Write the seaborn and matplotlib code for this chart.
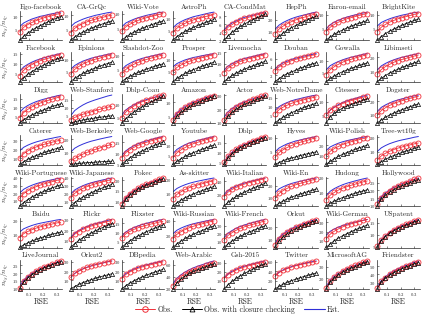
import numpy as np
import matplotlib
matplotlib.use('Agg')
import matplotlib.pyplot as plt
from matplotlib.lines import Line2D
from matplotlib.ticker import MaxNLocator, FixedLocator
import seaborn as sns

# RSE sample points
rse = [0.03, 0.06, 0.09, 0.12, 0.15, 0.18, 0.21, 0.24, 0.27, 0.30, 0.33]

titles = [
    'Ego-facebook', 'CA-GrQc', 'Wiki-Vote', 'AstroPh', 'CA-CondMat', 'HepPh', 'Enron-email', 'BrightKite',
    'Facebook', 'Epinions', 'Slashdot-Zoo', 'Prosper', 'Livemocha', 'Douban', 'Gowalla', 'Libimseti',
    'Digg', 'Web-Stanford', 'Dblp-Coau', 'Amazon', 'Actor', 'Web-NotreDame', 'Citeseer', 'Dogster',
    'Caterer', 'Web-Berkeley', 'Web-Google', 'Youtube', 'Dblp', 'Hyves', 'Wiki-Polish', 'Tree-wt10g',
    'Wiki-Portuguese', 'Wiki-Japanese', 'Pokec', 'As-skitter', 'Wiki-Italian', 'Wiki-En', 'Hudong', 'Hollywood',
    'Baidu', 'Flickr', 'Flixster', 'Wiki-Russian', 'Wiki-French', 'Orkut', 'Wiki-German', 'USpatent',
    'LiveJournal', 'Orkut2', 'DBpedia', 'Web-Arabic', 'Gsh-2015', 'Twitter', 'MicrosoftAG', 'Friendster',
]

# Est. (blue line)
est = [
    # row 1
    [6, 7.4, 8.2, 8.9, 9.4, 9.9, 10.2, 10.6, 10.9, 11.2, 11.5],
    [6, 7.3, 8, 8.6, 9.1, 9.5, 9.9, 10.2, 10.5, 10.8, 11],
    [5.5, 6.8, 7.5, 8.1, 8.6, 9, 9.4, 9.7, 10, 10.3, 10.5],
    [6, 7.6, 8.6, 9.4, 10, 10.6, 11, 11.4, 11.8, 12.2, 12.5],
    [4.5, 5.6, 6.3, 6.8, 7.3, 7.7, 8, 8.2, 8.5, 8.8, 9],
    [12, 15.6, 17.8, 19.5, 21, 22.2, 23.2, 24, 24.9, 25.8, 26.5],
    [5, 6.5, 7.4, 8.1, 8.7, 9.2, 9.6, 10, 10.3, 10.7, 11],
    [6, 7.3, 8, 8.6, 9.1, 9.5, 9.9, 10.2, 10.5, 10.8, 11],
    # row 2
    [6, 8.3, 9.6, 10.7, 11.6, 12.3, 12.9, 13.5, 14, 14.6, 15],
    [6, 7.6, 8.6, 9.4, 10, 10.6, 11, 11.4, 11.8, 12.2, 12.5],
    [5, 6.4, 7.2, 7.9, 8.4, 8.9, 9.2, 9.6, 9.9, 10.2, 10.5],
    [7, 8.4, 9.2, 9.9, 10.4, 10.9, 11.2, 11.6, 11.9, 12.2, 12.5],
    [7, 8.9, 10, 10.9, 11.7, 12.3, 12.8, 13.2, 13.7, 14.1, 14.5],
    [3.5, 4.4, 5, 5.4, 5.8, 6.1, 6.3, 6.6, 6.8, 7, 7.2],
    [6, 7.8, 8.8, 9.6, 10.3, 10.9, 11.4, 11.8, 12.2, 12.7, 13],
    [11, 13.9, 15.6, 17, 18.1, 19.1, 19.9, 20.5, 21.2, 21.9, 22.5],
    # row 3
    [7, 9.5, 11, 12.2, 13.2, 14, 14.7, 15.3, 15.9, 16.5, 17],
    [5, 8.3, 10.2, 11.8, 13.1, 14.1, 15, 15.8, 16.6, 17.4, 18],
    [6, 7.9, 9, 9.9, 10.7, 11.3, 11.8, 12.2, 12.7, 13.1, 13.5],
    [4, 6.1, 7.4, 8.4, 9.3, 10, 10.5, 11.1, 11.6, 12.1, 12.5],
    [14, 18, 20.4, 22.3, 23.9, 25.2, 26.3, 27.3, 28.2, 29.2, 30],
    [8, 10.1, 11.4, 12.4, 13.3, 14, 14.5, 15.1, 15.6, 16.1, 16.5],
    [5, 6.9, 8, 8.9, 9.7, 10.3, 10.8, 11.2, 11.7, 12.1, 12.5],
    [12, 15.3, 17.2, 18.8, 20.1, 21.1, 22, 22.8, 23.6, 24.4, 25],
    # row 4
    [18, 22, 24.4, 26.3, 27.9, 29.2, 30.3, 31.3, 32.2, 33.2, 34],
    [10, 13, 14.8, 16.2, 17.4, 18.4, 19.2, 20, 20.7, 21.4, 22],
    [9, 11.1, 12.4, 13.4, 14.3, 15, 15.5, 16.1, 16.6, 17.1, 17.5],
    [6, 8, 9.2, 10.2, 11, 11.6, 12.2, 12.6, 13.1, 13.6, 14],
    [5, 8.3, 10.2, 11.8, 13.1, 14.1, 15, 15.8, 16.6, 17.4, 18],
    [5, 6.4, 7.2, 7.9, 8.4, 8.9, 9.2, 9.6, 9.9, 10.2, 10.5],
    [15, 18.3, 20.2, 21.8, 23.1, 24.1, 25, 25.8, 26.6, 27.4, 28],
    [10, 12.6, 14.2, 15.5, 16.5, 17.4, 18.1, 18.7, 19.3, 20, 20.5],
    # row 5
    [20, 25, 28, 30.4, 32.4, 34, 35.4, 36.6, 37.8, 39, 40],
    [20, 25, 28, 30.4, 32.4, 34, 35.4, 36.6, 37.8, 39, 40],
    [9, 12, 13.8, 15.2, 16.4, 17.4, 18.2, 19, 19.7, 20.4, 21],
    [11, 13.5, 15, 16.2, 17.2, 18, 18.7, 19.3, 19.9, 20.5, 21],
    [20, 26.3, 30, 33, 35.5, 37.5, 39.3, 40.8, 42.3, 43.8, 45],
    [14, 17.3, 19.2, 20.8, 22.1, 23.1, 24, 24.8, 25.6, 26.4, 27],
    [8, 11, 12.8, 14.2, 15.4, 16.4, 17.2, 18, 18.7, 19.4, 20],
    [12, 16, 18.4, 20.3, 21.9, 23.2, 24.3, 25.3, 26.2, 27.2, 28],
    # row 6
    [12, 14.3, 15.6, 16.7, 17.6, 18.3, 18.9, 19.5, 20, 20.6, 21],
    [13, 17.3, 19.8, 21.8, 23.5, 24.9, 26.1, 27.1, 28.1, 29.2, 30],
    [8, 10.3, 11.6, 12.7, 13.6, 14.3, 14.9, 15.5, 16, 16.6, 17],
    [22, 27, 30, 32.4, 34.4, 36, 37.4, 38.6, 39.8, 41, 42],
    [15, 20.8, 24.2, 27, 29.3, 31.1, 32.7, 34.1, 35.5, 36.9, 38],
    [7, 11.8, 14.6, 16.9, 18.8, 20.3, 21.6, 22.8, 23.9, 25.1, 26],
    [16, 20.3, 22.8, 24.8, 26.5, 27.9, 29.1, 30.1, 31.1, 32.2, 33],
    [5, 7.9, 9.6, 11, 12.1, 13.1, 13.9, 14.5, 15.2, 15.9, 16.5],
    # row 7
    [11, 15.3, 17.8, 19.8, 21.5, 22.9, 24.1, 25.1, 26.1, 27.2, 28],
    [13, 17.5, 20.2, 22.4, 24.2, 25.6, 26.9, 27.9, 29, 30.1, 31],
    [13, 17.5, 20.2, 22.4, 24.2, 25.6, 26.9, 27.9, 29, 30.1, 31],
    [28, 37.5, 43.2, 47.8, 51.6, 54.6, 57.3, 59.5, 61.8, 64.1, 66],
    [13, 17.8, 20.6, 22.9, 24.8, 26.3, 27.6, 28.8, 29.9, 31.1, 32],
    [30, 38, 42.8, 46.6, 49.8, 52.4, 54.6, 56.6, 58.5, 60.4, 62],
    [13, 18.5, 21.8, 24.4, 26.6, 28.4, 29.9, 31.3, 32.6, 33.9, 35],
    [25, 32.8, 37.4, 41.1, 44.2, 46.7, 48.9, 50.7, 52.6, 54.5, 56],
]

# Obs. (red circles)
obs = [
    # row 1
    [4, 5.8, 6.8, 7.6, 8.3, 8.9, 9.4, 9.8, 10.2, 10.7, 11],
    [4, 5.5, 6.4, 7.1, 7.7, 8.2, 8.6, 9, 9.3, 9.7, 10],
    [4, 5.5, 6.4, 7.1, 7.7, 8.2, 8.6, 9, 9.3, 9.7, 10],
    [4, 5.9, 7, 7.9, 8.7, 9.3, 9.8, 10.2, 10.7, 11.1, 11.5],
    [4, 5.2, 5.9, 6.5, 7, 7.4, 7.7, 8, 8.3, 8.6, 8.8],
    [8, 12.3, 14.8, 16.8, 18.5, 19.9, 21.1, 22.1, 23.1, 24.2, 25],
    [4, 5.6, 6.6, 7.4, 8, 8.6, 9, 9.4, 9.8, 10.2, 10.5],
    [4, 5.6, 6.6, 7.4, 8, 8.6, 9, 9.4, 9.8, 10.2, 10.5],
    # row 2
    [4, 6.6, 8.2, 9.5, 10.5, 11.4, 12.1, 12.7, 13.3, 14, 14.5],
    [4, 6, 7.2, 8.2, 9, 9.6, 10.2, 10.6, 11.1, 11.6, 12],
    [3.5, 5.1, 6.1, 6.9, 7.5, 8.1, 8.5, 8.9, 9.3, 9.7, 10],
    [5, 6.8, 7.8, 8.6, 9.3, 9.9, 10.4, 10.8, 11.2, 11.7, 12],
    [6, 8, 9.2, 10.2, 11, 11.6, 12.2, 12.6, 13.1, 13.6, 14],
    [3, 4, 4.6, 5.1, 5.5, 5.8, 6.1, 6.3, 6.6, 6.8, 7],
    [4, 6.1, 7.4, 8.4, 9.3, 10, 10.5, 11.1, 11.6, 12.1, 12.5],
    [8, 11.4, 13.4, 15, 16.4, 17.5, 18.4, 19.2, 20, 20.8, 21.5],
    # row 3
    [4, 7, 8.8, 10.2, 11.4, 12.4, 13.2, 14, 14.7, 15.4, 16],
    [2.5, 4, 5, 6, 6.8, 7.5, 8.3, 9, 9.7, 10.4, 11],
    [5, 7.1, 8.4, 9.4, 10.3, 11, 11.5, 12.1, 12.6, 13.1, 13.5],
    [3.5, 5.7, 7, 8.1, 9, 9.7, 10.3, 10.8, 11.3, 11.9, 12.3],
    [12, 16.5, 19.2, 21.4, 23.2, 24.6, 25.9, 26.9, 28, 29.1, 30],
    [6, 8.4, 9.8, 10.9, 11.9, 12.7, 13.3, 13.9, 14.5, 15, 15.5],
    [5, 6.8, 7.8, 8.6, 9.3, 9.9, 10.4, 10.8, 11.2, 11.7, 12],
    [9, 12.8, 15, 16.8, 18.3, 19.5, 20.6, 21.5, 22.4, 23.3, 24],
    # row 4
    [10, 15, 18, 20.4, 22.4, 24, 25.4, 26.6, 27.8, 29, 30],
    [3, 5.1, 6.9, 8.5, 9.8, 10.9, 12.1, 13.1, 14.2, 15.1, 16],
    [8, 10.3, 11.6, 12.7, 13.6, 14.3, 14.9, 15.5, 16, 16.6, 17],
    [4, 6.4, 7.8, 8.9, 9.9, 10.7, 11.3, 11.9, 12.5, 13, 13.5],
    [5, 8.1, 10, 11.6, 12.9, 13.9, 14.8, 15.6, 16.4, 17.3, 18],
    [3, 4.8, 5.8, 6.6, 7.3, 7.9, 8.4, 8.8, 9.2, 9.7, 10],
    [10, 14.3, 16.8, 18.8, 20.5, 21.9, 23.1, 24.1, 25.1, 26.2, 27],
    [4, 7, 8.8, 10.2, 11.4, 12.4, 13.2, 14, 14.7, 15.4, 16],
    # row 5
    [13, 19.3, 23, 26, 28.5, 30.5, 32.3, 33.8, 35.3, 36.8, 38],
    [15, 20.8, 24.2, 27, 29.3, 31.1, 32.7, 34.1, 35.5, 36.9, 38],
    [9, 11.9, 13.7, 15.1, 16.3, 17.3, 18.1, 18.9, 19.6, 20.4, 21],
    [6, 9.3, 11.2, 12.8, 14.1, 15.1, 16, 16.8, 17.6, 18.4, 19],
    [17, 23.8, 27.8, 31, 33.7, 35.9, 37.8, 39.4, 41, 42.7, 44],
    [9, 13.3, 15.8, 17.8, 19.5, 20.9, 22.1, 23.1, 24.1, 25.2, 26],
    [5, 8.3, 10.2, 11.8, 13.1, 14.1, 15, 15.8, 16.6, 17.4, 18],
    [11, 15.3, 17.8, 19.8, 21.5, 22.9, 24.1, 25.1, 26.1, 27.2, 28],
    # row 6
    [8, 10.8, 12.4, 13.7, 14.8, 15.7, 16.5, 17.1, 17.8, 18.5, 19],
    [12, 16.3, 18.8, 20.8, 22.5, 23.9, 25.1, 26.1, 27.1, 28.2, 29],
    [7, 9.3, 10.6, 11.7, 12.6, 13.3, 13.9, 14.5, 15, 15.6, 16],
    [15, 21.3, 25, 28, 30.5, 32.5, 34.3, 35.8, 37.3, 38.8, 40],
    [12, 18, 21.6, 24.5, 26.9, 28.8, 30.5, 31.9, 33.4, 34.8, 36],
    [6, 10.9, 13.8, 16.1, 18.1, 19.7, 21, 22.2, 23.4, 24.5, 25.5],
    [12, 17.3, 20.4, 22.9, 25, 26.7, 28.2, 29.4, 30.7, 32, 33],
    [5, 7.8, 9.5, 10.9, 12, 12.9, 13.7, 14.4, 15.1, 15.7, 16.3],
    # row 7
    [10, 14.5, 17.2, 19.4, 21.2, 22.6, 23.9, 24.9, 26, 27.1, 28],
    [13, 17.3, 20, 22.2, 24, 25.5, 26.8, 27.8, 28.9, 30, 31],
    [12, 16.5, 19.2, 21.4, 23.2, 24.6, 25.9, 26.9, 28, 29.1, 30],
    [25, 34.5, 40.2, 44.8, 48.6, 51.6, 54.3, 56.5, 58.8, 61.1, 63],
    [12, 16.8, 19.6, 21.9, 23.8, 25.3, 26.6, 27.8, 28.9, 30.1, 31],
    [29, 37, 41.8, 45.6, 48.8, 51.4, 53.6, 55.6, 57.5, 59.4, 61],
    [12, 17.8, 21.2, 24, 26.3, 28.1, 29.7, 31.1, 32.5, 33.9, 35],
    [24, 31.8, 36.4, 40.1, 43.2, 45.7, 47.9, 49.7, 51.6, 53.5, 55],
]

# Obs. with closure checking (black triangles)
obs_cc = [
    # row 1
    [1, 2.4, 3.6, 4.7, 5.6, 6.4, 7.2, 7.9, 8.6, 9.2, 9.8],
    [1.5, 2.5, 3.5, 4.2, 4.9, 5.5, 6.1, 6.6, 7.1, 7.5, 8],
    [1, 2, 3, 3.7, 4.4, 5, 5.6, 6.1, 6.6, 7, 7.5],
    [1, 2.4, 3.6, 4.6, 5.4, 6.2, 7, 7.6, 8.3, 8.9, 9.5],
    [2, 3, 4, 4.7, 5.4, 6, 6.6, 7.1, 7.6, 8, 8.5],
    [3, 6.2, 9, 11.4, 13.4, 15.2, 17, 18.6, 20.2, 21.6, 23],
    [1, 2.1, 3.1, 3.9, 4.6, 5.3, 5.9, 6.5, 7, 7.5, 8],
    [1, 2.2, 3.3, 4.2, 4.9, 5.6, 6.3, 6.9, 7.5, 8, 8.5],
    # row 2
    [1, 2.9, 4.6, 6, 7.2, 8.3, 9.4, 10.4, 11.3, 12.2, 13],
    [1, 2.3, 3.4, 4.4, 5.2, 5.9, 6.6, 7.2, 7.9, 8.4, 9],
    [1, 2, 2.8, 3.5, 4.1, 4.7, 5.2, 5.7, 6.2, 6.6, 7],
    [1, 2.3, 3.4, 4.4, 5.2, 5.9, 6.6, 7.2, 7.9, 8.4, 9],
    [2, 3.4, 4.7, 5.8, 6.7, 7.5, 8.3, 9, 9.7, 10.4, 11],
    [0.5, 1.2, 1.9, 2.4, 2.8, 3.2, 3.7, 4, 4.4, 4.7, 5],
    [1, 2.3, 3.4, 4.4, 5.2, 5.9, 6.6, 7.2, 7.9, 8.4, 9],
    [3, 5.2, 7.2, 8.9, 10.3, 11.5, 12.8, 13.9, 15, 16, 17],
    # row 3
    [1, 2.8, 4.3, 5.6, 6.7, 7.7, 8.7, 9.6, 10.5, 11.2, 12],
    [0.5, 1.2, 1.9, 2.4, 2.8, 3.2, 3.7, 4, 4.4, 4.7, 5],
    [3, 4.6, 6, 7.2, 8.2, 9.1, 10, 10.8, 11.6, 12.3, 13],
    [2.5, 4.9, 6.3, 7.4, 8.4, 9.2, 9.8, 10.4, 11, 11.5, 12],
    [10, 14.8, 17.6, 19.9, 21.8, 23.3, 24.6, 25.8, 26.9, 28, 29],
    [1, 2.8, 4.3, 5.6, 6.7, 7.7, 8.7, 9.6, 10.5, 11.2, 12],
    [2, 4.3, 5.6, 6.7, 7.6, 8.3, 8.9, 9.5, 10, 10.6, 11],
    [3, 5.4, 7.5, 9.3, 10.8, 12.2, 13.5, 14.7, 15.9, 17, 18],
    # row 4
    [3, 6, 8.7, 11, 12.9, 14.6, 16.3, 17.8, 19.3, 20.7, 22],
    [0.5, 0.9, 1.3, 1.6, 1.8, 2, 2.3, 2.5, 2.7, 2.8, 3],
    [5, 6.6, 8, 9.2, 10.2, 11.1, 12, 12.8, 13.6, 14.3, 15],
    [1, 2.4, 3.7, 4.8, 5.7, 6.5, 7.3, 8, 8.7, 9.4, 10],
    [4, 7.4, 9.4, 11, 12.4, 13.5, 14.4, 15.2, 16, 16.8, 17.5],
    [0.5, 1.2, 1.9, 2.4, 2.8, 3.2, 3.7, 4, 4.4, 4.7, 5],
    [2, 4.9, 7.4, 9.6, 11.4, 13, 14.6, 16, 17.5, 18.7, 20],
    [1, 2.9, 4.6, 6, 7.2, 8.3, 9.4, 10.4, 11.3, 12.2, 13],
    # row 5
    [3, 7.5, 11.4, 14.8, 17.6, 20.1, 22.6, 24.8, 27.1, 29, 31],
    [5, 9.3, 13.1, 16.3, 19, 21.5, 23.9, 26.1, 28.2, 30.1, 32],
    [8, 11.1, 13, 14.5, 15.8, 16.8, 17.6, 18.4, 19.1, 19.9, 20.5],
    [1, 3.2, 5.2, 6.9, 8.3, 9.5, 10.8, 11.9, 13, 14, 15],
    [3, 8.4, 13.2, 17.3, 20.7, 23.7, 26.8, 29.5, 32.2, 34.6, 37],
    [2, 4.4, 6.5, 8.3, 9.8, 11.2, 12.5, 13.7, 14.9, 16, 17],
    [1, 2.8, 4.3, 5.6, 6.7, 7.7, 8.7, 9.6, 10.5, 11.2, 12],
    [10, 14.3, 16.8, 18.8, 20.5, 21.9, 23.1, 24.1, 25.1, 26.2, 27],
    # row 6
    [1, 2.8, 4.3, 5.6, 6.7, 7.7, 8.7, 9.6, 10.5, 11.2, 12],
    [4, 7.5, 10.6, 13.2, 15.4, 17.4, 19.4, 21.2, 22.9, 24.5, 26],
    [2, 3.9, 5.6, 7, 8.2, 9.3, 10.4, 11.4, 12.3, 13.2, 14],
    [3, 7.8, 12, 15.6, 18.6, 21.3, 24, 26.4, 28.8, 30.9, 33],
    [3, 7.3, 11.1, 14.3, 17, 19.5, 21.9, 24.1, 26.2, 28.1, 30],
    [4, 9.3, 12.4, 14.9, 17, 18.7, 20.2, 21.4, 22.7, 24, 25],
    [3, 6.8, 10.2, 13.1, 15.5, 17.6, 19.8, 21.7, 23.6, 25.3, 27],
    [4.5, 7.4, 9.1, 10.5, 11.6, 12.6, 13.4, 14, 14.7, 15.4, 16],
    # row 7
    [9.5, 14, 16.7, 18.9, 20.7, 22.1, 23.4, 24.4, 25.5, 26.6, 27.5],
    [0.5, 3.1, 5.5, 7.4, 9.1, 10.6, 12.1, 13.4, 14.7, 15.8, 17],
    [1, 4.4, 7.3, 9.8, 11.9, 13.8, 15.7, 17.4, 19.1, 20.5, 22],
    [20, 30.3, 36.4, 41.3, 45.4, 48.7, 51.6, 54, 56.5, 59, 61],
    [1, 5.5, 9.4, 12.8, 15.6, 18.1, 20.6, 22.8, 25.1, 27, 29],
    [2, 7.4, 12.2, 16.3, 19.7, 22.7, 25.8, 28.5, 31.2, 33.6, 36],
    [11, 16.8, 20.2, 23, 25.3, 27.1, 28.7, 30.1, 31.5, 32.9, 34],
    [23, 30.8, 35.4, 39.1, 42.2, 44.7, 46.9, 48.7, 50.6, 52.5, 54],
]

red = '#f0303a'
blue = '#2f2fd8'

sns.set_style('ticks')
plt.rcParams['font.family'] = ['cmr10', 'DejaVu Serif']
plt.rcParams['mathtext.fontset'] = 'cm'
plt.rcParams['axes.formatter.use_mathtext'] = True
plt.rcParams['axes.linewidth'] = 0.5

fig, axes = plt.subplots(7, 8, figsize=(4.24, 3.15), dpi=100)
fig.subplots_adjust(left=0.046, right=0.99, top=0.966, bottom=0.082,
                    wspace=0.2, hspace=0.4)

for k, ax in enumerate(axes.flat):
    sns.lineplot(x=rse, y=est[k], ax=ax, color=blue, linewidth=0.7)
    sns.lineplot(x=rse, y=obs[k], ax=ax, color=red, linewidth=0.6,
                 marker='o', markersize=3.6, markerfacecolor='none',
                 markeredgecolor=red, markeredgewidth=0.6, clip_on=False)
    sns.lineplot(x=rse, y=obs_cc[k], ax=ax, color='black', linewidth=0.5,
                 marker='^', markersize=3.0, markerfacecolor='none',
                 markeredgecolor='black', markeredgewidth=0.5, clip_on=False)

    lo = min(min(est[k]), min(obs[k]), min(obs_cc[k]))
    hi = max(max(est[k]), max(obs[k]), max(obs_cc[k]))
    ax.set_ylim(lo - 0.01 * (hi - lo), hi + 0.05 * (hi - lo))
    ax.set_xlim(0.03, 0.34)
    ax.xaxis.set_major_locator(FixedLocator([0.1, 0.2, 0.3]))
    ax.yaxis.set_major_locator(MaxNLocator(nbins=4, steps=[1, 2, 5, 10]))
    ax.tick_params(direction='in', length=1.5, width=0.4, pad=1, labelsize=3.4)
    ax.set_title(titles[k], fontsize=5.2, pad=1.5)
    ax.set_xlabel('')
    ax.set_ylabel('')
    sns.despine(ax=ax)

    row, col = divmod(k, 8)
    if row < 6:
        ax.tick_params(labelbottom=False)
    else:
        ax.set_xlabel('RSE', fontsize=5.5, labelpad=0)
    if col == 0:
        ax.set_ylabel(r'$n_{t_S}/n_{t_C}$', fontsize=5.2, labelpad=0.5)

handles = [
    Line2D([], [], color=red, linewidth=0.7, marker='o', markersize=4,
           markerfacecolor='none', markeredgecolor=red, markeredgewidth=0.7),
    Line2D([], [], color='black', linewidth=0.7, marker='^', markersize=3.5,
           markerfacecolor='none', markeredgecolor='black', markeredgewidth=0.6),
    Line2D([], [], color=blue, linewidth=0.8),
]
fig.legend(handles, ['Obs.', 'Obs. with closure checking', 'Est.'],
           loc='center', bbox_to_anchor=(0.56, 0.018), ncol=3,
           frameon=False, fontsize=5.6, handlelength=2.6, columnspacing=1.2,
           handletextpad=0.3, borderpad=0)

fig.savefig('out.png', dpi=100)
